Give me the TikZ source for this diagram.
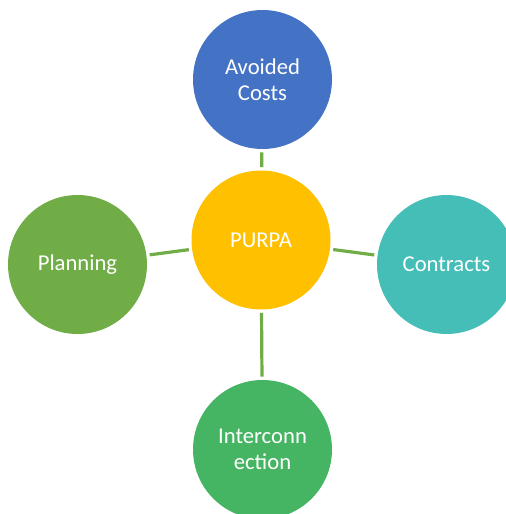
\documentclass[tikz,border=0pt]{standalone}
\usepackage{fontspec}
\setmainfont{Carlito}
\definecolor{cblue}{HTML}{4472C4}
\definecolor{cyellow}{HTML}{FFC000}
\definecolor{cteal}{HTML}{45BEB8}
\definecolor{cgreen}{HTML}{70AD47}
\definecolor{cgreenb}{HTML}{46B563}
\definecolor{cline}{HTML}{70AD47}
\begin{document}
\begin{tikzpicture}[x=0.75pt,y=-0.75pt,
  bubble/.style={circle,draw=none,minimum size=139*0.75pt,inner sep=0pt,outer sep=2.5pt,
    text=white,align=center,font=\fontsize{17}{19.5}\selectfont},
  link/.style={draw=cline,line width=2.4pt}]
\useasboundingbox (0,0) rectangle (506,514);
\begin{scope}
\clip (0,0) rectangle (506,514);
\node[bubble,fill=cyellow] (purpa) at (261,240) {PURPA};
\node[bubble,fill=cblue] (avoided) at (262.5,79.5) {Avoided\\Costs};
\node[bubble,fill=cgreen] (planning) at (77.5,264.5) {Planning};
\node[bubble,fill=cteal] (contracts) at (446.5,264.5) {Contracts};
\node[bubble,fill=cgreenb] (inter) at (262.5,449.5) {Interconn\\ection};
\draw[link] (purpa) -- (avoided);
\draw[link] (purpa) -- (planning);
\draw[link] (purpa) -- (contracts);
\draw[link] (purpa) -- (inter);
\end{scope}
\end{tikzpicture}
\end{document}
